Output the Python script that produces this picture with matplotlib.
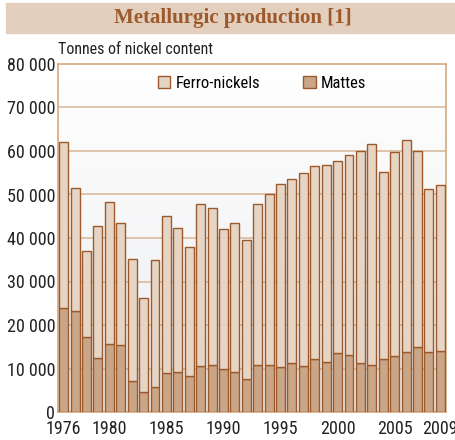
import numpy as np
import matplotlib.pyplot as plt
from matplotlib.patches import Rectangle

years = list(range(1976, 2010))
totals = [62000, 51400, 37000, 42700, 48200, 43400, 35200, 26300, 34900, 45100,
          42200, 37900, 47900, 47000, 42100, 43500, 39500, 47800, 50200, 52400,
          53500, 55000, 56500, 56700, 57600, 59000, 60000, 61600, 55200, 59700,
          62500, 59900, 51200, 52200]
mattes = [23800, 23200, 17200, 12400, 15600, 15400, 7200, 4600, 5700, 8950,
          9200, 8350, 10560, 10800, 9800, 9100, 7650, 10900, 10750, 10300,
          11300, 10600, 12100, 11400, 13600, 13100, 11300, 10900, 12200, 12900,
          13800, 14900, 13700, 14000]
ferro = [t - m for t, m in zip(totals, mattes)]
tick_years = [1976, 1980, 1985, 1990, 1995, 2000, 2005, 2009]
y_ticks = list(range(0, 80001, 10000))

edge = '#9c5a2c'
c_ferro = '#e6d4c4'
c_mattes = '#c9a687'
grid_c = '#d9bb9d'
font = ['Roboto Condensed', 'Archivo Narrow', 'PT Sans Narrow',
        'Liberation Sans Narrow', 'Liberation Sans']

fig = plt.figure(figsize=(4.56, 4.40), dpi=100)

# title band
fig.patches.append(Rectangle((6/456, 1 - 33/440), 1, 30/440, transform=fig.transFigure,
                             color='#e3cfbd', zorder=0))
fig.text(233/456, 1 - 18/440, 'Metallurgic production [1]', ha='center', va='center',
         family=['Liberation Serif', 'DejaVu Serif'], weight='bold', fontsize=15,
         color='#9c5a2c')

ax = fig.add_axes([58/456, 1 - 412/440, 388/456, 348/440])

# background gradient
grad = np.linspace(1, 0, 256).reshape(-1, 1)
top = np.array([1.0, 1.0, 1.0])
bot = np.array([0.925, 0.93, 0.94])
img = bot + (top - bot) * grad[..., None]
ax.imshow(img, extent=[-0.5, len(years) - 0.5, 0, 80000], aspect='auto', zorder=0)

x = np.arange(len(years))
ax.bar(x, mattes, width=0.78, color=c_mattes, edgecolor=edge, linewidth=1, zorder=3,
       label='Mattes')
ax.bar(x, ferro, bottom=mattes, width=0.78, color=c_ferro, edgecolor=edge, linewidth=1,
       zorder=3, label='Ferro-nickels')

for v in y_ticks[1:-1]:
    ax.axhline(v, color=grid_c, linewidth=1.2, zorder=1)

ax.set_xlim(-0.5, len(years) - 0.5)
ax.set_ylim(0, 80000)
ax.set_yticks(y_ticks)
ax.set_yticklabels([f'{v:,}'.replace(',', ' ') for v in y_ticks])
ax.set_xticks([years.index(y) for y in tick_years])
ax.set_xticklabels([str(y) for y in tick_years])
ax.tick_params(length=0, labelsize=13, colors='#222222')
ax.tick_params(axis='x', pad=6)
ax.tick_params(axis='y', pad=2)
for lab in ax.get_xticklabels() + ax.get_yticklabels():
    lab.set_family(font)
for s in ax.spines.values():
    s.set_color('#d4a982')
    s.set_linewidth(1.2)

h, l = ax.get_legend_handles_labels()
ax.legend(h[::-1], l[::-1], loc='center left', bbox_to_anchor=(100/388, 0.945), ncol=2,
          frameon=False, borderpad=0, borderaxespad=0, columnspacing=2.6,
          handlelength=0.75, handleheight=0.75, handletextpad=0.3,
          prop={'family': font, 'size': 12})

fig.text(58/456, 1 - 49/440, 'Tonnes of nickel content', ha='left', va='center',
         family=font, fontsize=11.5, color='#222222')

fig.savefig('out.png', dpi=100)
